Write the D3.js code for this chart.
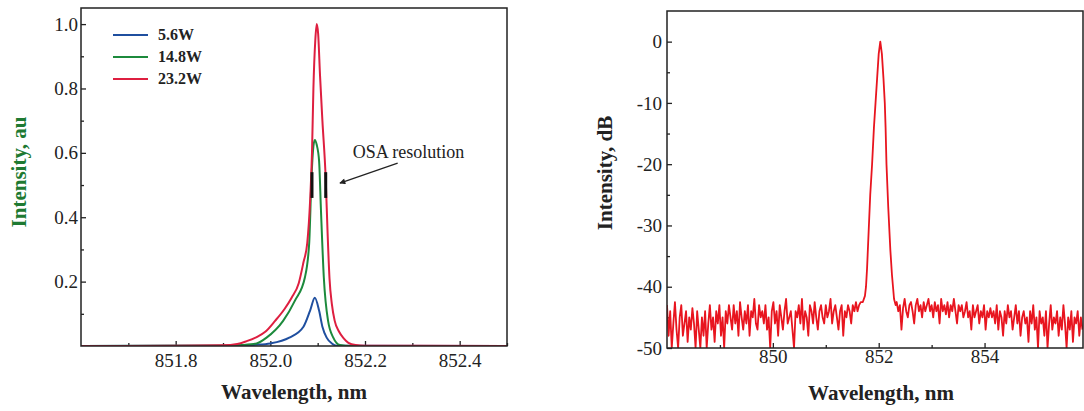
<!DOCTYPE html>
<html><head><meta charset="utf-8">
<script src="https://cdn.jsdelivr.net/npm/d3@7"></script>
<style>
html,body{margin:0;padding:0;background:#fff;}
svg{display:block;}
text{font-family:"Liberation Serif","Times New Roman",serif;}
</style></head>
<body>
<svg id="chart" width="1084" height="411"></svg>
<script>
// ---------- Left panel data (wavelength nm, normalized intensity) ----------
const seriesNames = ["5.6W", "14.8W", "23.2W"];
const seriesColors = ["#1f4f9f", "#1c8a3c", "#de1f40"];
const wl56 = [851.60, 851.90, 851.97, 852.00, 852.04, 852.07, 852.084, 852.094, 852.103, 852.11, 852.119, 852.13, 852.14, 852.50];
const val56 = [0, 0.001, 0.004, 0.008, 0.026, 0.06, 0.11, 0.15, 0.11, 0.06, 0.026, 0.008, 0.001, 0];
const wl148 = [851.60, 851.90, 851.94, 851.971, 851.992, 852.027, 852.052, 852.073, 852.082, 852.087, 852.091, 852.094, 852.098, 852.103, 852.107, 852.113, 852.122, 852.133, 852.147, 852.17, 852.50];
const val148 = [0, 0.001, 0.003, 0.008, 0.026, 0.078, 0.141, 0.213, 0.317, 0.524, 0.62, 0.64, 0.625, 0.575, 0.42, 0.213, 0.078, 0.026, 0.003, 0, 0];
const wl232 = [851.60, 851.80, 851.90, 851.93, 851.95, 851.97, 851.99, 852.01, 852.03, 852.045, 852.06, 852.07, 852.078, 852.084, 852.088, 852.091, 852.095, 852.098, 852.101, 852.105, 852.11, 852.117, 852.121, 852.125, 852.13, 852.136, 852.145, 852.155, 852.165, 852.18, 852.20, 852.50];
const val232 = [0, 0.001, 0.002, 0.006, 0.015, 0.027, 0.045, 0.078, 0.115, 0.15, 0.195, 0.26, 0.32, 0.45, 0.6, 0.8, 0.95, 1.0, 0.97, 0.84, 0.7, 0.52, 0.35, 0.21, 0.13, 0.078, 0.045, 0.024, 0.01, 0.003, 0.001, 0];
const leftXMajor = [851.8, 852.0, 852.2, 852.4];
const leftXMinor = [851.7, 851.9, 852.1, 852.3, 852.5];
const leftYMajor = [0.2, 0.4, 0.6, 0.8, 1.0];
const leftYMinor = [0.1, 0.3, 0.5, 0.7, 0.9];
const osaBarsX = [852.088, 852.117];
const osaBarsY = [0.46, 0.54];
const osaText = "OSA resolution";
const osaTextPos = [852.174, 0.585];
const osaArrow = [[852.269, 0.568], [852.147, 0.506]];

// ---------- Right panel data (wavelength nm, dB) ----------
const noiseLeftStart = 848.00, noiseStep = 0.03;
const noiseLeft = [
 -43,-48,-44,-50,-46,-42.5,-47,-50,-45,-43,-48,-46,-44,-49,-45,-47,-43.5,-46,-50,-44,
 -47,-50,-45,-48,-44,-50,-46,-43,-47,-45,-49,-44,-46,-43,-48,-45,-50,-44,-46,-43,
 -45,-47,-43,-46,-44,-48,-42.5,-45,-47,-44,-46,-43,-48,-44,-45,-42,-46,-47,-43,-45,
 -44,-46,-43,-47,-45,-50,-44,-42.5,-46,-44,-48,-43,-45,-47,-44,-42,-46,-45,-44,-47,
 -50,-44,-45,-43,-46,-42,-47,-44,-45,-48,-43,-44,-46,-42.5,-45,-47,-44,-43,-45,-46,
 -43,-45,-44,-42,-46,-44,-43,-45,-47,-44,-43,-48,-44,-45,-43,-44,-46,-43,-44,-42.5,-44,-43,-42.5];
const peakWl = [851.70, 851.74, 851.76, 851.78, 851.81, 851.84, 851.875, 851.91, 851.94, 851.97, 852.00, 852.03, 852.06, 852.09, 852.115, 852.13, 852.147, 852.18, 852.22, 852.25, 852.27, 852.29, 852.32];
const peakDb = [-42.5, -41.5, -40, -37, -31, -25, -20, -14, -10, -6, -2, 0, -2, -6, -10, -14, -20, -27, -34, -38, -40, -42, -43];
const noiseRightStart = 852.34;
const noiseRight = [
 -42.5,-44,-43,-47,-43.5,-42,-44,-45,-43,-42.5,-44,-46,-43,-42,-44,-43,-45,-42.5,-44,-43,
 -42,-44,-43,-45,-42.5,-44,-43,-46,-42,-44,-43,-44.5,-42.5,-45,-43,-44,-42,-44,-46,-43,
 -44,-43,-45,-44,-42.5,-45,-44,-47,-43,-45,-44,-43,-46,-44,-45,-43,-47,-44,-45,-43.5,
 -45,-44,-46,-43,-47,-44,-45,-48,-44,-46,-43,-45,-44,-47,-45,-43,-46,-44,-48,-45,
 -44,-46,-45,-49,-44,-46,-43,-47,-45,-50,-44,-46,-45,-48,-44,-50,-46,-43,-47,-45,
 -46,-44,-48,-45,-47,-43,-46,-50,-45,-47,-44,-49,-45,-46,-44,-48,-45,-47];
const rightXMajor = [850, 852, 854];
const rightXMinor = [849, 851, 853, 855];
const rightYMajor = [0, -10, -20, -30, -40, -50];
const rightYMinor = [-5, -15, -25, -35, -45];

// ---------- Drawing ----------
const svg = d3.select("#chart");
const defs = svg.append("defs");

function frame(g, x0, y0, x1, y1) {
  g.append("rect").attr("x", x0).attr("y", y0).attr("width", x1 - x0).attr("height", y1 - y0)
   .attr("fill", "none").attr("stroke", "#222").attr("stroke-width", 1.5);
}
function styleAxis(sel, size) {
  sel.select(".domain").remove();
  sel.selectAll(".tick line").attr("stroke", "#222").attr("stroke-width", 1.3);
  sel.selectAll(".tick text").attr("fill", "#222").attr("font-size", size)
     .attr("font-family", "'Liberation Serif', serif");
}

// Left panel
const L = {x0: 81, x1: 507, y0: 8, y1: 346};
const xL = d3.scaleLinear().domain([851.6, 852.5]).range([L.x0, L.x1]);
const yL = d3.scaleLinear().domain([0, 1.05]).range([L.y1, L.y0]);
defs.append("clipPath").attr("id", "clipL").append("rect")
  .attr("x", L.x0).attr("y", L.y0).attr("width", L.x1 - L.x0).attr("height", L.y1 - L.y0);
const gL = svg.append("g");

const gLxMin = gL.append("g").attr("transform", `translate(0,${L.y1})`)
  .call(d3.axisBottom(xL).tickValues(leftXMinor).tickSize(-3).tickFormat(""));
styleAxis(gLxMin, 19);
const gLx = gL.append("g").attr("transform", `translate(0,${L.y1})`)
  .call(d3.axisBottom(xL).tickValues(leftXMajor).tickSize(-5).tickPadding(7.5).tickFormat(d3.format(".1f")));
styleAxis(gLx, 19);
const gLyMin = gL.append("g").attr("transform", `translate(${L.x0},0)`)
  .call(d3.axisLeft(yL).tickValues(leftYMinor).tickSize(-3).tickFormat(""));
styleAxis(gLyMin, 19);
const gLy = gL.append("g").attr("transform", `translate(${L.x0},0)`)
  .call(d3.axisLeft(yL).tickValues(leftYMajor).tickSize(-5).tickPadding(3).tickFormat(d3.format(".1f")));
styleAxis(gLy, 19);

const leftData = [
  {wl: wl56, v: val56}, {wl: wl148, v: val148}, {wl: wl232, v: val232}
];
const lineL = d3.line().x(d => xL(d[0])).y(d => yL(d[1])).curve(d3.curveMonotoneX);
gL.append("g").attr("clip-path", "url(#clipL)").selectAll("path")
  .data(leftData).join("path")
  .attr("d", s => lineL(s.wl.map((w, i) => [w, s.v[i]])))
  .attr("fill", "none").attr("stroke", (s, i) => seriesColors[i]).attr("stroke-width", 2);

// OSA bars
gL.selectAll("line.osa").data(osaBarsX).join("line").attr("class", "osa")
  .attr("x1", d => xL(d)).attr("x2", d => xL(d))
  .attr("y1", yL(osaBarsY[0])).attr("y2", yL(osaBarsY[1]))
  .attr("stroke", "#111").attr("stroke-width", 3);
// arrow
defs.append("marker").attr("id", "arr").attr("viewBox", "0 0 10 10").attr("refX", 9).attr("refY", 5)
  .attr("markerWidth", 8).attr("markerHeight", 6).attr("orient", "auto-start-reverse")
  .attr("markerUnits", "userSpaceOnUse")
  .append("path").attr("d", "M0,0 L10,5 L0,10 z").attr("fill", "#222");
gL.append("line")
  .attr("x1", xL(osaArrow[0][0])).attr("y1", yL(osaArrow[0][1]))
  .attr("x2", xL(osaArrow[1][0])).attr("y2", yL(osaArrow[1][1]))
  .attr("stroke", "#222").attr("stroke-width", 1.2).attr("marker-end", "url(#arr)");
gL.append("text").attr("x", xL(osaTextPos[0])).attr("y", yL(osaTextPos[1]))
  .attr("font-size", 18).attr("fill", "#222").text(osaText);

// legend
const leg = gL.append("g");
seriesNames.forEach((n, i) => {
  const yy = 35 + i * 22;
  leg.append("line").attr("x1", 113).attr("x2", 148).attr("y1", yy).attr("y2", yy)
    .attr("stroke", seriesColors[i]).attr("stroke-width", 2);
  leg.append("text").attr("x", 158).attr("y", yy + 5).attr("font-size", 16)
    .attr("font-weight", "bold").attr("fill", "#222").text(n);
});
frame(gL, L.x0, L.y0, L.x1, L.y1);
gL.append("text").attr("x", (L.x0 + L.x1) / 2).attr("y", 399).attr("text-anchor", "middle")
  .attr("font-size", 21).attr("font-weight", "bold").attr("fill", "#222").text("Wavelength, nm");
gL.append("text").attr("transform", `translate(26,${172}) rotate(-90)`).attr("text-anchor", "middle")
  .attr("font-size", 21).attr("font-weight", "bold").attr("fill", "#1e7a32").text("Intensity, au");

// Right panel
const R = {x0: 667, x1: 1083, y0: 11, y1: 348};
const xR = d3.scaleLinear().domain([848, 855.86]).range([R.x0, R.x1]);
const yR = d3.scaleLinear().domain([-50, 5]).range([R.y1, R.y0]);
defs.append("clipPath").attr("id", "clipR").append("rect")
  .attr("x", R.x0).attr("y", R.y0).attr("width", R.x1 - R.x0).attr("height", R.y1 - R.y0);
const gR = svg.append("g");
const gRxMin = gR.append("g").attr("transform", `translate(0,${R.y1})`)
  .call(d3.axisBottom(xR).tickValues(rightXMinor).tickSize(-3).tickFormat(""));
styleAxis(gRxMin, 19);
const gRx = gR.append("g").attr("transform", `translate(0,${R.y1})`)
  .call(d3.axisBottom(xR).tickValues(rightXMajor).tickSize(-5).tickPadding(1).tickFormat(d3.format("d")));
styleAxis(gRx, 19);
const gRyMin = gR.append("g").attr("transform", `translate(${R.x0},0)`)
  .call(d3.axisLeft(yR).tickValues(rightYMinor).tickSize(-3).tickFormat(""));
styleAxis(gRyMin, 19);
const gRy = gR.append("g").attr("transform", `translate(${R.x0},0)`)
  .call(d3.axisLeft(yR).tickValues(rightYMajor).tickSize(-5).tickPadding(5).tickFormat(d => d === 0 ? "0" : "-" + Math.abs(d)));
styleAxis(gRy, 19);

const specPts = []
  .concat(noiseLeft.map((v, i) => [noiseLeftStart + i * noiseStep, v]))
  .concat(peakWl.map((w, i) => [w, peakDb[i]]))
  .concat(noiseRight.map((v, i) => [noiseRightStart + i * noiseStep, v]));
const lineR = d3.line().x(d => xR(d[0])).y(d => yR(d[1]));
gR.append("path").attr("clip-path", "url(#clipR)").datum(specPts)
  .attr("d", lineR).attr("fill", "none").attr("stroke", "#e8151f").attr("stroke-width", 1.8)
  .attr("stroke-linejoin", "round");
frame(gR, R.x0, R.y0, R.x1, R.y1);
gR.append("text").attr("x", 881).attr("y", 400).attr("text-anchor", "middle")
  .attr("font-size", 21).attr("font-weight", "bold").attr("fill", "#222").text("Wavelength, nm");
gR.append("text").attr("transform", `translate(612,${173}) rotate(-90)`).attr("text-anchor", "middle")
  .attr("font-size", 21).attr("font-weight", "bold").attr("fill", "#222").text("Intensity, dB");
</script>
</body></html>
